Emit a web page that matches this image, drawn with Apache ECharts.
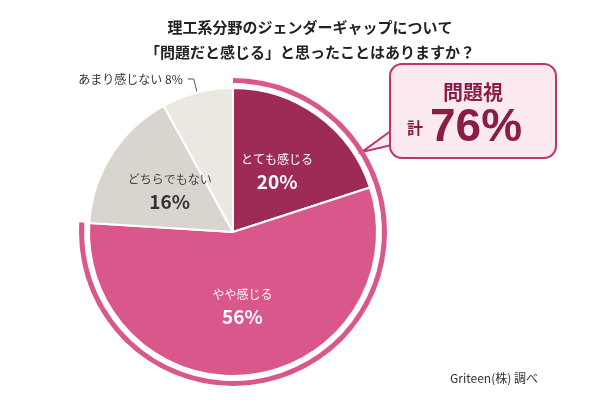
<!DOCTYPE html><html><head><meta charset="utf-8"><script src="https://cdn.jsdelivr.net/npm/echarts@6/dist/echarts.min.js"></script></head><body style="margin:0;background:#fff"><div id="c" style="width:610px;height:400px"></div><script>
const categories=['とても感じる','やや感じる','どちらでもない','あまり感じない'];
const values=[20,56,16,8];
const colors=['#9e2b56','#d9578a','#d8d5ce','#ebe8e1'];
const total76=76;
const ch=echarts.init(document.getElementById('c'));
const F='"Noto Sans CJK JP",sans-serif';
ch.setOption({
title:{text:'理工系分野のジェンダーギャップについて\n「問題だと感じる」と思ったことはありますか？',left:305,textAlign:'center',top:10,textStyle:{fontFamily:F,fontSize:15,fontWeight:'bold',color:'#222',lineHeight:25}},
series:[
{type:'pie',center:[233,232],radius:[0,144],startAngle:90,clockwise:true,silent:true,
itemStyle:{borderColor:'#fff',borderWidth:2},
label:{position:'inner',fontFamily:F,formatter:p=>'{a|'+p.name+'}\n{b|'+p.value+'%}',
rich:{a:{fontSize:12,color:'#fff',fontFamily:F,lineHeight:20},b:{fontSize:19,fontWeight:'bold',color:'#fff',fontFamily:F,lineHeight:24}}},
data:categories.map((n,i)=>{const d={name:n,value:values[i],itemStyle:{color:colors[i]}};
if(i>=2){d.label={rich:{a:{color:'#444',fontSize:12,fontFamily:F,lineHeight:20},b:{color:'#333',fontSize:19,fontWeight:'bold',fontFamily:F,lineHeight:24}}};}
if(i===3){d.label={position:'outside',formatter:p=>p.name+' '+p.value+'%',color:'#333',fontSize:12,fontFamily:F};d.labelLine={show:true,length:14,length2:6,lineStyle:{color:'#555'}};}
return d;})},
{type:'pie',center:[233,232],radius:[149,154],startAngle:90,silent:true,label:{show:false},labelLine:{show:false},
data:[{value:total76,itemStyle:{color:'#d9578a'}},{value:100-total76,itemStyle:{color:'rgba(0,0,0,0)'}}]}
],
graphic:[
{type:'polygon',shape:{points:[[392,130],[362,152],[392,145]]},style:{fill:'#fbe9f0',stroke:'#c2326b',lineWidth:2}},
{type:'rect',shape:{x:390,y:64,width:166,height:94,r:12},style:{fill:'#fbe9f0',stroke:'#c2326b',lineWidth:2}},
{type:'rect',shape:{x:391,y:131,width:3,height:13},style:{fill:'#fbe9f0'}},
{type:'text',x:473,y:92,style:{text:'問題視',fontFamily:F,fontSize:20,fontWeight:'bold',fill:'#8a1d45',align:'center',verticalAlign:'middle'}},
{type:'text',x:407,y:128,style:{text:'計',fontFamily:F,fontSize:16,fontWeight:'bold',fill:'#8a1d45',verticalAlign:'middle'}},
{type:'text',x:430,y:128,style:{text:total76+'%',fontFamily:'"Liberation Sans",sans-serif',fontSize:46,fontWeight:'bold',fill:'#8a1d45',verticalAlign:'middle'}},
{type:'text',x:450,y:378,style:{text:'Griteen(株) 調べ',fontFamily:F,fontSize:12,fill:'#333',verticalAlign:'middle'}}
]});
</script></body></html>
